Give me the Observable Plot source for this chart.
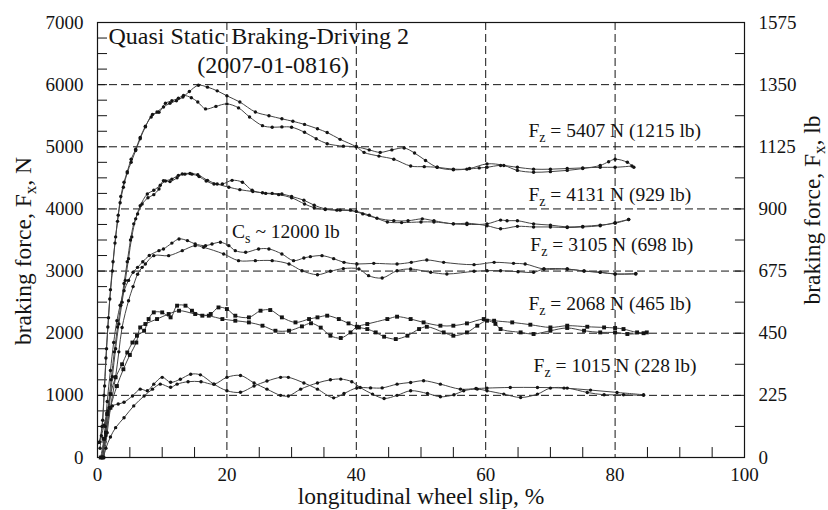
<!DOCTYPE html>
<html>
<head>
<meta charset="utf-8">
<script src="https://cdn.jsdelivr.net/npm/d3@7"></script>
<script src="https://cdn.jsdelivr.net/npm/@observablehq/plot@0.6"></script>
<style>
  html, body { margin: 0; padding: 0; background: #fff; }
  #chart { width: 828px; height: 510px; }
  #chart svg, #chart svg text, #chart svg tspan { font-family: "Liberation Serif", "DejaVu Serif", serif !important; }
</style>
</head>
<body>
<div id="chart"></div>
<script>
// ---- data (slip %, braking force N) ----
const c5407a = [[0.4,150],[0.8,600],[1.1,1150],[1.4,1750],[1.7,2250],[2,2700],[2.4,3150],[2.8,3550],[3.2,3900],[3.6,4200],[4.1,4430],[4.6,4600],[5.2,4800],[5.9,4960],[6.6,5150],[7.4,5330],[8.3,5480],[9.2,5560],[10.2,5640],[11.2,5700],[12.2,5740],[13.2,5800],[14.2,5890],[15.6,5990],[17,5960],[18.5,5900],[20,5820],[22,5720],[24.4,5560],[26.5,5500],[28.5,5450],[30.2,5410],[32,5360],[34,5290],[35.5,5230],[37.5,5120],[40,5000],[41.2,4910],[43.5,4850],[45.8,4800],[48.4,4690],[50.5,4680],[52.5,4670],[55,4640],[57.1,4640],[59,4660],[60.2,4670],[62.3,4700],[64.9,4670],[67.4,4640],[70,4640],[72.6,4650],[75,4660],[77.7,4670],[80,4670],[82.6,4690]];
const c5407b = [[0.3,250],[0.7,500],[1,1000],[1.3,1600],[1.6,2100],[1.9,2550],[2.3,3000],[2.7,3450],[3.1,3800],[3.5,4100],[4,4350],[4.6,4580],[5.2,4750],[5.9,4940],[6.6,5130],[7.4,5320],[8.5,5520],[9.5,5555],[10.5,5700],[11.5,5740],[12.5,5780],[13.3,5825],[14.5,5790],[15.5,5720],[16.7,5610],[18.3,5650],[20,5690],[21.8,5626],[23.5,5480],[25.5,5340],[27,5315],[28.5,5320],[30,5315],[32,5234],[33.8,5130],[35.5,5050],[38,5010],[40,5000],[42,4950],[43.7,4910],[45.5,4950],[47.4,4980],[49,4900],[50.7,4780],[52.5,4670],[55,4630],[57.5,4650],[60.2,4725],[62.8,4700],[64.9,4620],[67.4,4590],[70,4600],[72.6,4620],[75,4650],[77.7,4700],[79,4760],[80,4800],[81.9,4750],[82.9,4670]];
const c4131a = [[0.8,0],[1.3,350],[1.8,800],[2.3,1300],[2.8,1750],[3.3,2150],[3.8,2500],[4.3,2850],[4.8,3200],[5.3,3550],[5.9,3840],[6.6,4050],[7.7,4240],[8.7,4300],[9.7,4380],[10.5,4450],[11.5,4480],[12.5,4540],[13.5,4560],[14.6,4560],[15.7,4520],[16.8,4450],[18,4400],[19.3,4400],[20.8,4460],[22.4,4430],[23.9,4300],[25.5,4260],[27,4250],[28.5,4240],[30,4200],[31.9,4140],[33.5,4060],[35.2,4000],[37,3980],[39.1,3980],[41,3920],[43.2,3850],[45.8,3810],[48,3810],[50.2,3840],[52,3810],[55,3760],[57.1,3770],[60.2,3730],[62.3,3680],[64.9,3720],[67.4,3710],[70,3710],[72.6,3700],[75,3710],[77.7,3730],[80,3780],[82.1,3830]];
const c4131b = [[0.6,0],[1.1,300],[1.6,750],[2.1,1250],[2.6,1700],[3.1,2100],[3.6,2450],[4.1,2800],[4.6,3150],[5.1,3500],[5.6,3760],[6.2,3920],[6.9,4080],[7.8,4180],[8.7,4230],[9.5,4320],[10.2,4456],[11.2,4440],[12.3,4500],[13.1,4563],[14.3,4570],[15.5,4550],[17,4460],[18.5,4400],[20.3,4350],[22,4310],[24,4280],[26,4250],[28,4230],[30,4180],[32,4080],[33.5,4020],[35.2,3990],[37.5,3980],[40,3960],[42,3900],[44.8,3790],[47,3780],[50,3790],[52,3790],[55,3760],[57.1,3750],[60.2,3760],[62.3,3820],[63.3,3810],[64.9,3810],[67.4,3760],[70,3740],[72.6,3710],[75,3720],[77.7,3740],[80,3770],[82.1,3830]];
const c3105a = [[0.8,0],[1.2,500],[1.5,900],[2,1400],[2.5,1850],[3,2200],[3.5,2450],[4.1,2684],[4.8,2850],[5.5,2980],[6.2,3060],[7,3150],[8,3250],[9.5,3329],[10.2,3356],[11.5,3450],[12.6,3517],[13.9,3490],[15.1,3436],[16.7,3409],[17.7,3436],[19,3463],[20.3,3409],[21.3,3329],[22.9,3302],[24.9,3356],[26.5,3356],[28.5,3275],[30.3,3168],[31.9,3211],[32.9,3232],[34.7,3248],[36.5,3200],[38.1,3140],[40.1,3114],[42.7,3124],[46.3,3114],[48.5,3140],[50.9,3178],[53.5,3140],[58.2,3103],[61.3,3140],[64.3,3124],[66.1,3114],[69,3033],[72.6,3033],[75.2,3000],[77.7,2980],[80,2953],[83.2,2953]];
const c3105b = [[1,0],[1.5,400],[2,800],[2.8,1300],[3.3,1700],[3.8,2093],[4.8,2523],[5.5,2750],[6.2,2950],[6.9,3060],[7.4,3114],[8.7,3248],[11,3248],[13.1,3329],[15.1,3409],[16.4,3382],[19.5,3275],[21.8,3168],[24.4,3168],[27,3168],[29.6,3114],[31.6,3006],[34,2942],[36,2996],[38,3040],[40.4,3033],[41.9,2926],[44,2889],[46.3,3006],[48.4,3033],[51.5,2980],[54,2953],[58.2,2996],[60.2,3006],[62.3,3006],[65,2990],[67.4,2980],[69,3033],[72.6,3033],[75.2,3000],[77.7,2980],[80,2953],[83.2,2960]];
const c2068a = [[0.5,0],[1,300],[1.5,700],[2,1020],[2.8,1290],[3.8,1500],[4.6,1690],[5.4,1850],[6.1,1960],[7.2,2040],[7.9,2228],[8.7,2335],[10,2335],[11.3,2255],[12.3,2443],[13.6,2443],[14.6,2362],[16.2,2282],[17.5,2309],[18.7,2415],[20,2389],[21.3,2282],[23.4,2255],[25.2,2362],[26.7,2373],[28.5,2255],[30.6,2174],[32.7,2228],[34,2255],[35.5,2282],[37.3,2228],[38.8,2158],[40.4,2093],[41.7,2067],[43,2013],[44.3,1944],[46.1,1906],[47.9,1960],[49.7,2067],[50.9,2104],[53.5,2013],[55,1960],[57.1,2013],[58.7,2121],[60.2,2201],[61.5,2150],[62.3,2067],[65.4,2013],[67.4,1987],[70,2040],[72.6,2084],[75.2,2040],[77.7,2013],[80,2013],[81.9,1987],[84.4,2000]];
const c2068b = [[0.8,0],[1.3,400],[2,800],[3,1150],[4,1420],[5,1650],[6,1850],[6.6,2093],[7.4,2148],[9.2,2228],[11,2309],[12.6,2362],[15.1,2309],[17.2,2282],[19.3,2228],[21.3,2201],[23.4,2174],[25.5,2121],[27.5,2040],[29.6,2040],[31.6,2110],[33,2160],[34.5,2090],[36,1960],[37.6,1923],[39.1,2013],[40.1,2104],[41.7,2148],[44.8,2228],[46.3,2266],[48.4,2228],[50.4,2174],[53,2121],[55,2121],[57.1,2158],[59.7,2228],[61.3,2201],[64.1,2174],[66.9,2137],[70,2093],[72.6,2121],[75.7,2104],[78.3,2093],[80,2084],[81.3,2067],[83.4,2013],[84.9,2013]];
const c1015a = [[0.2,240],[0.6,350],[1,520],[1.5,700],[2.3,830],[3.2,860],[4.1,890],[5.4,990],[6.6,1100],[7.7,1075],[8.7,1180],[10,1290],[11.3,1210],[12.8,1260],[14.4,1340],[15.9,1330],[18,1180],[20,1075],[22.1,1050],[24.2,1150],[26.2,1230],[28.3,1290],[29.5,1290],[31.9,1200],[34,1100],[36.5,960],[38.1,1030],[40.1,1120],[42.2,1120],[44,1120],[46.3,1180],[48.4,1208],[50.4,1235],[53,1180],[56.1,1100],[58.5,1110],[60.2,1117],[63.8,1127],[68,1127],[72.1,1117],[76.2,1085],[80.3,1047],[84.4,1010]];
const c1015b = [[0.9,0],[1.3,150],[2,330],[2.8,480],[4.1,640],[5.6,830],[7.2,990],[8.5,1100],[9.7,1180],[11.3,1130],[12.3,1180],[14,1220],[16,1220],[18,1180],[20,1290],[22.1,1320],[24.2,1200],[26.2,1100],[28.3,1000],[29.5,990],[31.4,1100],[34,1200],[36,1250],[37.6,1262],[39.3,1220],[40.6,1127],[42.5,1020],[44.3,950],[46.3,1000],[48.4,1074],[51,1030],[53,977],[55.1,1010],[56.6,1074],[58.7,1101],[60.2,1074],[62.8,1020],[65.4,966],[68,1020],[70,1117],[72.6,1117],[75.7,1047],[78.3,1010],[81.3,1010],[84.4,1000]];

const seriesNames = ["5407 a","5407 b","4131 a","4131 b","3105 a","3105 b","2068 a","2068 b","1015 a","1015 b"];
const seriesPoints = [c5407a,c5407b,c4131a,c4131b,c3105a,c3105b,c2068a,c2068b,c1015a,c1015b];
const squareSeries = ["2068 a","2068 b"];

// ---- axes / ticks ----
const xLabels = [0,20,40,60,80,100];
const xMinor = [5,10,15,25,30,35,45,50,55,65,70,75,85,90,95];
const gridSlip = [20,40,60,80];
const forceTicks = [0,1000,2000,3000,4000,5000,6000,7000];
const gridForce = [1000,2000,3000,4000,5000,6000];
const leftMinor = d3.range(250, 7000, 250);
const lbTicks = [0,225,450,675,900,1125,1350,1575];
const rightMinor = d3.range(500, 7000, 500);
const nPerLb = 7000 / 1575;

// ---- texts ----
const titleLines = ["Quasi Static Braking-Driving 2", "(2007-01-0816)"];
const fzLabels = ["F_z = 5407 N (1215 lb)","F_z = 4131 N (929 lb)","F_z = 3105 N (698 lb)","F_z = 2068 N (465 lb)","F_z = 1015 N (228 lb)"];
const fzAnchorSlip = [66.6,66.6,66.9,66.6,67.4];
const fzAnchorForce = [5253,4234,3428,2475,1480];
const csLabel = "C_s ~ 12000 lb";
const xTitle = "longitudinal wheel slip, %";
const yTitleLeft = "braking force, F_x, N";
const yTitleRight = "braking force, F_x, lb";

const rows = seriesPoints.flatMap((pts, i) => pts.map(([s, f]) => ({
  series: seriesNames[i], square: squareSeries.includes(seriesNames[i]), slip: s, fx: f
})));
const fzRows = fzLabels.map((t, i) => ({text: t, slip: fzAnchorSlip[i], fx: fzAnchorForce[i]}));

const ink = "#141414";
const chart = Plot.plot({
  width: 828, height: 510,
  marginLeft: 97, marginRight: 84, marginTop: 22, marginBottom: 53,
  x: {domain: [0, 100]},
  y: {domain: [0, 7000]},
  style: {fontSize: "19px", color: ink, background: "#fff", overflow: "visible"},
  marks: [
    Plot.ruleX(gridSlip, {stroke: ink, strokeWidth: 1, strokeDasharray: "8,4"}),
    Plot.ruleY(gridForce, {stroke: ink, strokeWidth: 1, strokeDasharray: "8,4"}),
    Plot.ruleY(leftMinor, {x1: 0, x2: 1.55, stroke: ink}),
    Plot.ruleY(rightMinor, {x1: 98.6, x2: 100, stroke: ink}),
    Plot.ruleX(xMinor, {y1: 0, y2: 160, stroke: ink}),
    Plot.line(rows, {x: "slip", y: "fx", z: "series", stroke: "#444", strokeWidth: 1, curve: "catmull-rom"}),
    Plot.dot(rows.filter(d => !d.square), {x: "slip", y: "fx", r: 1.7, fill: ink, stroke: "none"}),
    Plot.dot(rows.filter(d => d.square), {x: "slip", y: "fx", r: 2.2, symbol: "square", fill: ink, stroke: "none"}),
    Plot.frame({stroke: ink, strokeWidth: 1.2}),
    Plot.axisX({ticks: xLabels, tickSize: 0, tickPadding: 10, tickFormat: d => String(d), label: null, fontSize: 19}),
    Plot.axisY({ticks: forceTicks, tickSize: 0, tickPadding: 14, tickFormat: d => String(d), label: null, fontSize: 19}),
    Plot.axisY({anchor: "right", ticks: lbTicks.map(v => v * nPerLb), tickSize: 0, tickPadding: 14, tickFormat: d => String(Math.round(d / nPerLb)), label: null, fontSize: 19}),
    Plot.text([titleLines[0]], {x: 1.7, y: 6770, text: d => d, textAnchor: "start", fontSize: 24, fill: ink}),
    Plot.text([titleLines[1]], {x: 15.4, y: 6319, text: d => d, textAnchor: "start", fontSize: 24, fill: ink}),
    Plot.text(fzRows, {x: "slip", y: "fx", text: "text", textAnchor: "start", fontSize: 19.5, fill: ink}),
    Plot.text([csLabel], {x: 20.8, y: 3634, text: d => d, textAnchor: "start", fontSize: 19.5, fill: ink}),
    Plot.text([xTitle], {frameAnchor: "bottom", lineAnchor: "middle", textAnchor: "middle", dy: 39, text: d => d, fontSize: 23.5, fill: ink}),
    Plot.text([yTitleLeft], {frameAnchor: "left", lineAnchor: "middle", textAnchor: "middle", dx: -74, dy: 11, rotate: -90, text: d => d, fontSize: 23.5, fill: ink}),
    Plot.text([yTitleRight], {frameAnchor: "right", lineAnchor: "middle", textAnchor: "middle", dx: 68, dy: -30, rotate: -90, text: d => d, fontSize: 23.5, fill: ink})
  ]
});

// render "X_y" as X with subscript y
const NS = "http://www.w3.org/2000/svg";
chart.querySelectorAll("text").forEach(t => {
  if (t.children.length) return;
  const s = t.textContent;
  const m = s.match(/^(.*?)([A-Za-z])_([A-Za-z])(.*)$/);
  if (!m) return;
  t.textContent = "";
  const a = document.createElementNS(NS, "tspan"); a.textContent = m[1] + m[2];
  const b = document.createElementNS(NS, "tspan"); b.textContent = m[3];
  b.setAttribute("dy", "5"); b.setAttribute("font-size", "72%");
  const c = document.createElementNS(NS, "tspan"); c.textContent = m[4];
  c.setAttribute("dy", "-5");
  t.append(a, b, c);
});

document.getElementById("chart").appendChild(chart);
</script>
</body>
</html>
